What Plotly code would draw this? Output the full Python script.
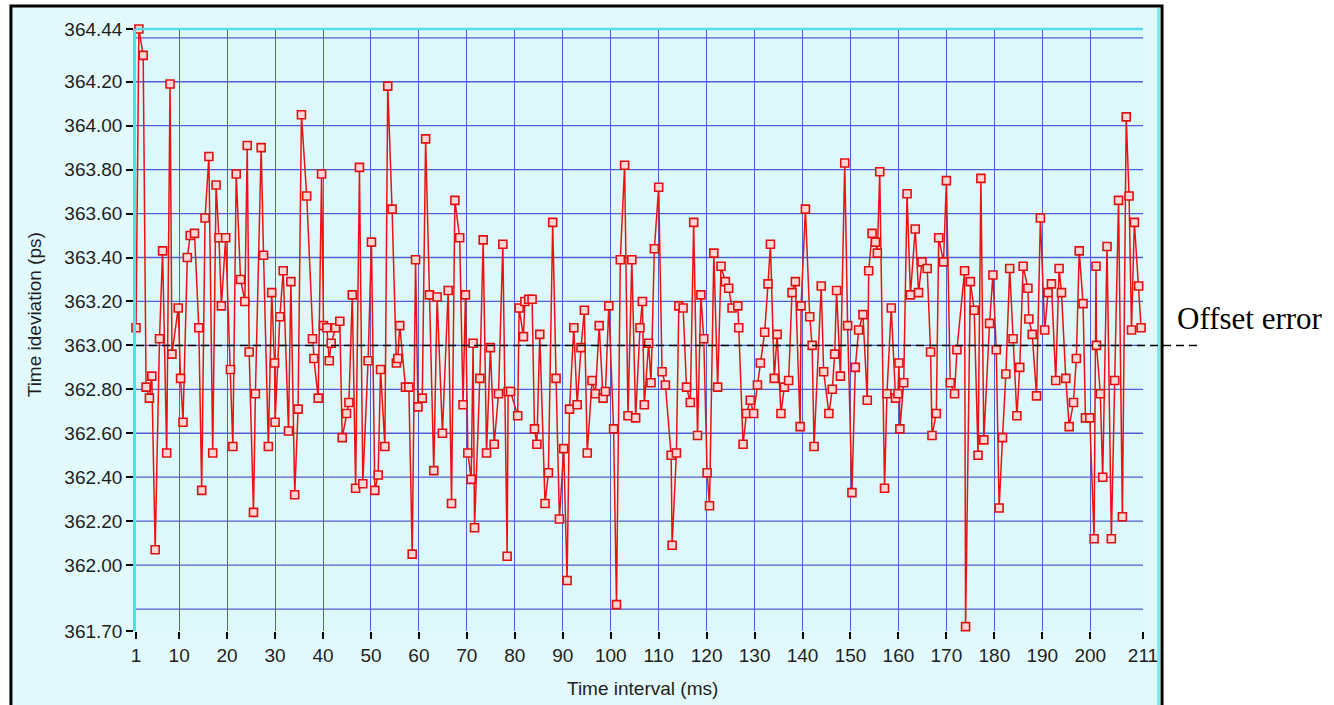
import plotly.graph_objects as go

# ---- data ----
t_ms = [1.0, 1.6, 2.5, 3.1, 3.8, 4.3, 5.0, 5.9, 6.55, 7.4, 8.1, 8.5, 9.8, 10.3, 10.8, 11.7, 12.3, 13.2, 14.1, 14.7,
        15.4, 16.2, 17.0, 17.7, 18.3, 18.8, 19.7, 20.7, 21.2, 21.9, 22.8, 23.7, 24.2, 24.6, 25.5, 25.9, 27.1, 27.6, 28.6, 29.3,
        29.9, 30.0, 31.0, 31.7, 32.8, 33.3, 34.1, 34.8, 35.5, 36.6, 37.8, 38.1, 39.0, 39.7, 40.1, 40.8, 41.3, 41.7, 42.6, 43.5,
        44.0, 44.9, 45.4, 46.1, 46.8, 47.6, 48.3, 49.4, 50.1, 50.8, 51.5, 52.0, 52.9, 53.5, 54.4, 55.3, 55.6, 56.0, 57.2, 57.9,
        58.6, 59.3, 59.8, 60.7, 61.4, 62.2, 63.1, 63.8, 64.9, 66.1, 66.8, 67.5, 68.5, 69.2, 69.7, 70.2, 70.9, 71.3, 71.6, 72.7,
        73.4, 74.1, 74.9, 75.7, 76.6, 77.5, 78.4, 78.6, 79.1, 80.6, 80.9, 81.8, 82.1, 82.9, 83.6, 84.1, 84.6, 85.2, 86.3, 87.0,
        87.9, 88.6, 89.3, 90.2, 90.9, 91.4, 92.3, 93.0, 93.8, 94.5, 95.1, 96.1, 96.8, 97.6, 98.4, 98.9, 99.6, 100.6, 101.2, 102.0,
        102.9, 103.6, 104.4, 105.2, 106.1, 106.6, 107.0, 107.9, 108.4, 109.1, 110.0, 110.7, 111.4, 112.6, 112.8, 113.7, 114.2, 115.1, 115.8, 116.6,
        117.3, 118.1, 118.8, 119.4, 120.1, 120.6, 121.5, 122.3, 123.0, 123.9, 124.6, 125.3, 126.5, 126.7, 127.6, 128.3, 129.1, 129.8, 130.6, 131.2,
        132.1, 132.8, 133.3, 134.1, 134.7, 135.5, 136.2, 137.1, 137.8, 138.5, 139.5, 139.7, 140.6, 141.5, 142.0, 142.4, 143.9, 144.4, 145.5, 146.2,
        146.7, 147.1, 147.9, 148.8, 149.4, 150.3, 151.0, 151.7, 152.6, 153.5, 153.8, 154.5, 155.2, 155.6, 156.1, 157.1, 157.6, 158.5, 159.4, 159.9,
        160.1, 160.3, 161.1, 161.8, 162.5, 163.5, 164.2, 164.9, 166.0, 166.7, 167.0, 167.9, 168.4, 169.4, 170.0, 170.8, 171.7, 172.2, 173.8, 174.0,
        175.0, 175.8, 176.6, 177.2, 177.8, 179.0, 179.7, 180.4, 181.0, 181.7, 182.4, 183.2, 183.9, 184.7, 185.3, 186.0, 187.0, 187.2, 187.9, 188.8,
        189.6, 190.5, 191.2, 191.9, 192.8, 193.5, 194.0, 194.9, 195.6, 196.5, 197.1, 197.7, 198.5, 199.0, 199.9, 200.8, 201.2, 201.3, 202.1, 202.6,
        203.5, 204.4, 205.1, 205.9, 206.7, 207.5, 208.1, 208.6, 209.2, 210.1, 210.6]

dev_ps = [363.08, 364.44, 364.32, 362.81, 362.76, 362.86, 362.07, 363.03, 363.43, 362.51, 364.19, 362.96, 363.17, 362.85, 362.65, 363.40, 363.50, 363.51, 363.08, 362.34,
          363.58, 363.86, 362.51, 363.73, 363.49, 363.18, 363.49, 362.89, 362.54, 363.78, 363.30, 363.20, 363.91, 362.97, 362.24, 362.78, 363.90, 363.41, 362.54, 363.24,
          362.92, 362.65, 363.13, 363.34, 362.61, 363.29, 362.32, 362.71, 364.05, 363.68, 363.03, 362.94, 362.76, 363.78, 363.09, 363.08, 362.93, 363.01, 363.08, 363.11,
          362.58, 362.69, 362.74, 363.23, 362.35, 363.81, 362.37, 362.93, 363.47, 362.34, 362.41, 362.89, 362.54, 364.18, 363.62, 362.92, 362.94, 363.09, 362.81, 362.81,
          362.05, 363.39, 362.72, 362.76, 363.94, 363.23, 362.43, 363.22, 362.60, 363.25, 362.28, 363.66, 363.49, 362.73, 363.23, 362.51, 362.39, 363.01, 362.17, 362.85,
          363.48, 362.51, 362.99, 362.55, 362.78, 363.46, 362.04, 362.79, 362.79, 362.68, 363.17, 363.04, 363.20, 363.21, 363.21, 362.62, 362.55, 363.05, 362.28, 362.42,
          363.56, 362.85, 362.21, 362.53, 361.93, 362.71, 363.08, 362.73, 362.99, 363.16, 362.51, 362.84, 362.78, 363.09, 362.76, 362.79, 363.18, 362.62, 361.82, 363.39,
          363.82, 362.68, 363.39, 362.67, 363.08, 363.20, 362.73, 363.01, 362.83, 363.44, 363.72, 362.88, 362.82, 362.50, 362.09, 362.51, 363.18, 363.17, 362.81, 362.74,
          363.56, 362.59, 363.23, 363.03, 362.42, 362.27, 363.42, 362.81, 363.36, 363.29, 363.26, 363.17, 363.18, 363.08, 362.55, 362.69, 362.75, 362.69, 362.82, 362.92,
          363.06, 363.28, 363.46, 362.85, 363.05, 362.69, 362.81, 362.84, 363.24, 363.29, 362.63, 363.18, 363.62, 363.13, 363.00, 362.54, 363.27, 362.88, 362.69, 362.80,
          362.96, 363.25, 362.86, 363.83, 363.09, 362.33, 362.90, 363.07, 363.14, 362.75, 363.34, 363.51, 363.47, 363.42, 363.79, 362.35, 362.78, 363.17, 362.76, 362.78,
          362.92, 362.62, 362.83, 363.69, 363.23, 363.53, 363.24, 363.38, 363.35, 362.97, 362.59, 362.69, 363.49, 363.38, 363.75, 362.83, 362.78, 362.98, 363.34, 361.72,
          363.29, 363.16, 362.50, 363.76, 362.57, 363.10, 363.32, 362.98, 362.26, 362.58, 362.87, 363.35, 363.03, 362.68, 362.90, 363.36, 363.26, 363.12, 363.05, 362.77,
          363.58, 363.07, 363.24, 363.28, 362.84, 363.35, 363.24, 362.85, 362.63, 362.74, 362.94, 363.43, 363.19, 362.67, 362.67, 362.12, 363.36, 363.00, 362.78, 362.40,
          363.45, 362.12, 362.84, 363.66, 362.22, 364.04, 363.68, 363.07, 363.56, 363.27, 363.08]

x_ticks = [1, 10, 20, 30, 40, 50, 60, 70, 80, 90, 100, 110, 120, 130, 140, 150, 160, 170, 180, 190, 200, 211]
y_ticks = [361.70, 362.00, 362.20, 362.40, 362.60, 362.80, 363.00, 363.20, 363.40, 363.60, 363.80, 364.00, 364.20, 364.44]
y_grid = [361.80, 362.00, 362.20, 362.40, 362.60, 362.80, 363.00, 363.20, 363.40, 363.60, 363.80, 364.00, 364.20, 364.40]
x_range = [1, 211]
y_range = [361.70, 364.44]
offset_error = 363.00

PLOT_BG = "#dcf8fa"
FRAME_BG = "#e2fafb"
GRID = "#5060d4"
RED = "#ee1111"

fig = go.Figure()
fig.add_trace(go.Scatter(
    x=t_ms, y=dev_ps, mode="lines+markers",
    line=dict(color=RED, width=1.5),
    marker=dict(symbol="square", size=8, color="#ffd6d6",
                line=dict(color="#e01010", width=1.6)),
    cliponaxis=False, showlegend=False, hoverinfo="x+y",
))

shapes = [
    # outer frame
    dict(type="rect", xref="paper", yref="paper", x0=-0.1242, x1=1.0189, y0=-0.15, y1=1.0382,
         fillcolor=FRAME_BG, line=dict(color="black", width=3), layer="below"),
    # inner cyan edge on the right of the frame
    dict(type="line", xref="paper", yref="paper", x0=1.0155, x1=1.0155, y0=-0.15, y1=1.035,
         line=dict(color="#7de8ee", width=3), layer="below"),
    # plot area
    dict(type="rect", xref="paper", yref="paper", x0=0, x1=1, y0=0, y1=1,
         fillcolor=PLOT_BG, line=dict(width=0), layer="below"),
]
for g in y_grid:
    shapes.append(dict(type="line", xref="paper", yref="y", x0=0, x1=1, y0=g, y1=g,
                       line=dict(color=GRID, width=1.3), layer="below"))
# top border (cyan)
shapes.append(dict(type="line", xref="paper", yref="paper", x0=0, x1=1, y0=1, y1=1,
                   line=dict(color="#55dde6", width=2.5), layer="above"))
# offset error dashed line
shapes.append(dict(type="line", xref="paper", yref="y", x0=0, x1=1.0536, y0=offset_error, y1=offset_error,
                   line=dict(color="black", width=1.5, dash="8px,5px"), layer="above"))

tickfont = dict(family="Liberation Sans, Arial, sans-serif", size=19, color="#1e1e1e")
titlefont = dict(family="Liberation Sans, Arial, sans-serif", size=19, color="#1e1e1e")

fig.update_layout(
    width=1334, height=705,
    margin=dict(l=136, r=191, t=29, b=74),
    paper_bgcolor="white",
    plot_bgcolor="rgba(0,0,0,0)",
    shapes=shapes,
    xaxis=dict(range=x_range, tickmode="array", tickvals=x_ticks, ticktext=[str(v) for v in x_ticks],
               showgrid=True, gridcolor=GRID, gridwidth=1.3, zeroline=False,
               ticks="outside", ticklen=7, tickwidth=1.5, tickcolor="black",
               tickfont=tickfont, showline=False),
    yaxis=dict(range=y_range, tickmode="array", tickvals=y_ticks, ticktext=[f"{v:.2f}" for v in y_ticks],
               showgrid=False, zeroline=False,
               ticks="outside", ticklen=7, tickwidth=1.5, tickcolor="black",
               tickfont=tickfont, showline=True, linecolor="#55dde6", linewidth=2.5),
    annotations=[
        dict(text="Time ideviation (ps)", xref="paper", yref="paper", x=-0.1,
             y=0.525, textangle=-90, showarrow=False, xanchor="center", yanchor="middle",
             font=titlefont),
        dict(text="Time interval (ms)", xref="paper", yref="paper", x=0.5025, y=-0.095,
             showarrow=False, xanchor="center", yanchor="middle", font=titlefont),
        dict(text="Offset error", xref="paper", yref="y", x=1.0318, y=offset_error,
             yshift=27, showarrow=False, xanchor="left", yanchor="middle",
             font=dict(family="Liberation Serif, Times New Roman, serif", size=31, color="black")),
    ],
)

fig.write_html("out.html")
